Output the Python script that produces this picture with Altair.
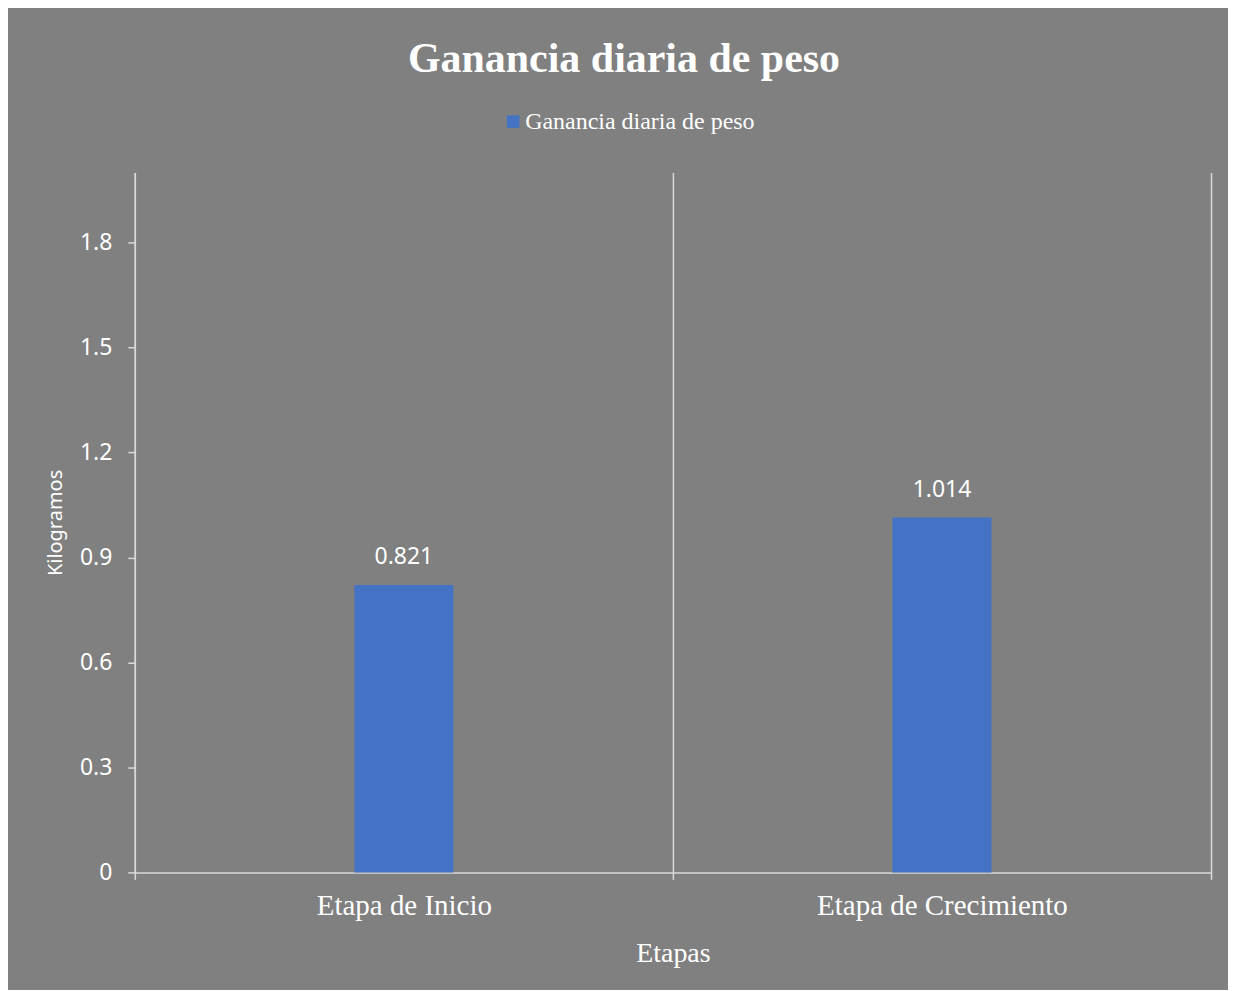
import altair as alt
import pandas as pd

etapas = ["Etapa de Inicio", "Etapa de Crecimiento"]
valores = [0.821, 1.014]
serie = ["Ganancia diaria de peso", "Ganancia diaria de peso"]
y_ticks = [0, 0.3, 0.6, 0.9, 1.2, 1.5, 1.8]

df = pd.DataFrame({"etapa": etapas, "valor": valores, "serie": serie})

LINE = "#d9d9d9"
SERIF = "Liberation Serif"
SANS = "Noto Sans"

base = alt.Chart(df)

x_enc = alt.X(
    "etapa:N",
    sort=etapas,
    title="Etapas",
    scale=alt.Scale(paddingInner=0, paddingOuter=0),
    axis=alt.Axis(
        tickBand="extent",
        grid=True,
        gridColor=LINE,
        gridWidth=1.5,
        domainColor=LINE,
        domainWidth=1.5,
        tickColor=LINE,
        tickWidth=1.5,
        tickSize=7,
        labelAngle=0,
        labelFont=SERIF,
        labelFontSize=29,
        labelColor="white",
        labelPadding=12,
        labelLimit=0,
        titleFont=SERIF,
        titleFontSize=28,
        titleFontWeight="normal",
        titleColor="white",
        titlePadding=19,
    ),
)

y_enc = alt.Y(
    "valor:Q",
    scale=alt.Scale(domain=[0, 2.0]),
    title="Kilogramos",
    axis=alt.Axis(
        values=y_ticks,
        format="~g",
        grid=False,
        domainColor=LINE,
        domainWidth=1.5,
        tickColor=LINE,
        tickWidth=1.5,
        tickSize=7,
        labelFont=SANS,
        labelFontSize=23,
        labelColor="white",
        labelPadding=16,
        titleFont=SANS,
        titleFontSize=20,
        titleFontWeight="normal",
        titleColor="white",
        titlePadding=14,
    ),
)

bars = base.mark_bar(width=alt.RelativeBandSize(0.184)).encode(
    x=x_enc,
    y=y_enc,
    color=alt.Color(
        "serie:N",
        scale=alt.Scale(range=["#4472C4"]),
        legend=alt.Legend(
            title=None,
            orient="none",
            legendX=367,
            legendY=-63,
            padding=0,
            symbolType="square",
            symbolSize=156,
            symbolStrokeWidth=0,
            labelFont=SERIF,
            labelFontSize=24,
            labelColor="white",
            labelOffset=0,
            labelLimit=0,
        ),
    ),
)

labels = base.mark_text(
    baseline="bottom", dy=-16, color="white", font=SANS, fontSize=23
).encode(
    x=alt.X("etapa:N", sort=etapas),
    y=alt.Y("valor:Q"),
    text=alt.Text("valor:Q", format=".3f"),
)

chart = (
    alt.layer(bars, labels)
    .properties(
        width=1078,
        height=701,
        autosize=alt.AutoSizeParams(type="none"),
        padding={"left": 127, "right": 17, "top": 164, "bottom": 117},
        background="#808080",
        title=alt.TitleParams(
            "Ganancia diaria de peso",
            font=SERIF,
            fontSize=42,
            fontWeight="bold",
            color="white",
            anchor="middle",
            offset=29,
            dx=-49,
        ),
    )
    .configure_view(stroke="transparent")
)

chart.save("out.html", embed_options={"renderer": "svg", "actions": False})
